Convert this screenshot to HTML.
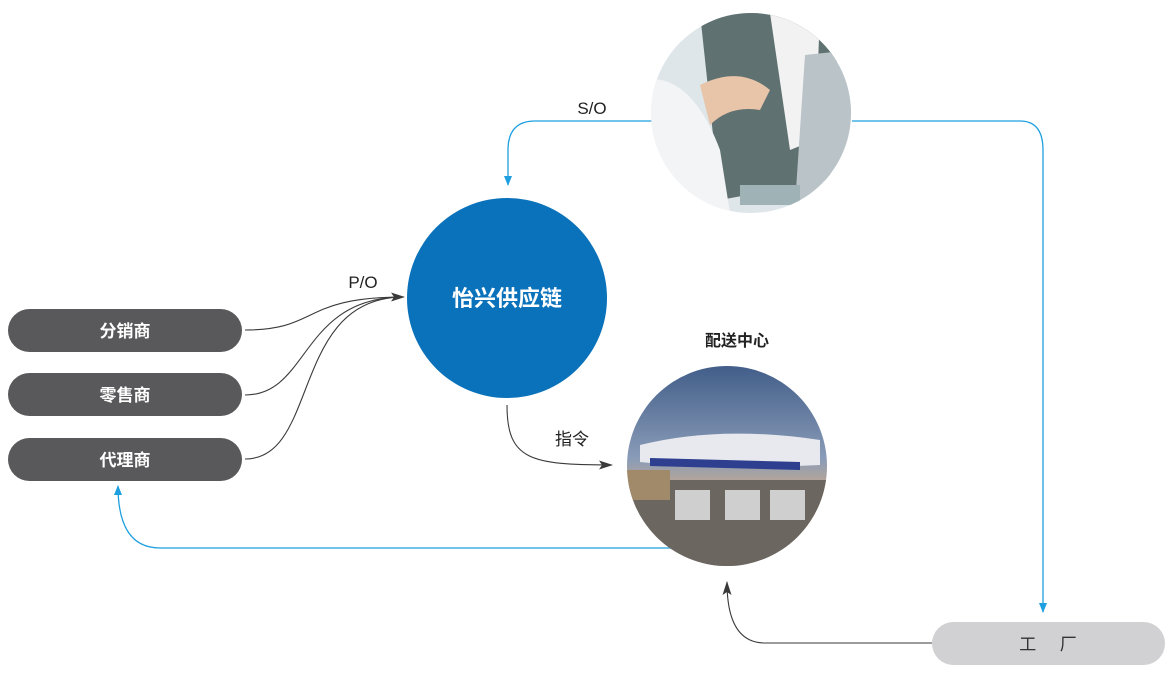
<!DOCTYPE html>
<html><head><meta charset="utf-8"><style>
html,body{margin:0;padding:0;background:#fff;width:1170px;height:679px;overflow:hidden}
svg{display:block}
text{font-family:"Liberation Sans","Noto Sans CJK SC",sans-serif}
</style></head><body>
<svg width="1170" height="679" viewBox="0 0 1170 679">
<defs>
<clipPath id="c1"><circle cx="751" cy="113" r="100"/></clipPath>
<clipPath id="c2"><circle cx="727" cy="466" r="100"/></clipPath>
<linearGradient id="sky" x1="0" y1="0" x2="0" y2="1">
<stop offset="0" stop-color="#3d5a86"/><stop offset="0.45" stop-color="#8a9cb8"/><stop offset="0.6" stop-color="#c7a98a"/><stop offset="1" stop-color="#6a6e74"/></linearGradient>
<marker id="ab" markerWidth="10" markerHeight="10" refX="9" refY="5" orient="auto" markerUnits="userSpaceOnUse"><path d="M0,1 L10,5 L0,9 Z" fill="#1ea0e0"/></marker>
<marker id="ad" markerWidth="14" markerHeight="10" refX="13" refY="5" orient="auto" markerUnits="userSpaceOnUse"><path d="M0,0.5 L14,5 L0,9.5 L3,5 Z" fill="#3a3a3a"/></marker>
</defs>

<!-- blue lines -->
<g fill="none" stroke="#1ea0e0" stroke-width="1.3">
<path d="M652,121 L535,121 Q508,121 508,150 L508,185" marker-end="url(#ab)"/>
<path d="M852,121 L1020,121 Q1043,121 1043,150 L1043,612" marker-end="url(#ab)"/>
<path d="M680,548 L160,548 Q118,548 118,486" marker-end="url(#ab)"/>
</g>
<!-- dark lines -->
<g fill="none" stroke="#3a3a3a" stroke-width="1.1">
<path d="M245,330 C320,330 300,297 404,297" marker-end="url(#ad)"/>
<path d="M245,395 C310,395 300,297 404,297"/>
<path d="M245,459 C320,459 290,297 404,297"/>
<path d="M507,405 C507,460 530,465 612,465" marker-end="url(#ad)"/>
<path d="M932,643 L765,643 Q727,643 727,582" marker-end="url(#ad)"/>
</g>

<!-- pills -->
<g fill="#59595b">
<rect x="8" y="309" width="234" height="43" rx="21.5"/>
<rect x="8" y="373" width="234" height="43" rx="21.5"/>
<rect x="8" y="438" width="234" height="43" rx="21.5"/>
</g>
<g fill="#fff" font-size="17" font-weight="bold" text-anchor="middle">
<text x="125" y="337">分销商</text>
<text x="125" y="401">零售商</text>
<text x="125" y="466">代理商</text>
</g>
<rect x="932" y="622" width="233" height="43" rx="21.5" fill="#d1d1d3"/>
<text x="1048" y="650" font-size="17" text-anchor="middle" fill="#333" xml:space="preserve">工     厂</text>

<!-- blue circle -->
<circle cx="507" cy="298" r="100" fill="#0a72ba"/>
<text x="507" y="306" font-size="22" fill="#fff" text-anchor="middle" font-weight="bold">怡兴供应链</text>

<!-- office photo -->
<g clip-path="url(#c1)">
<rect x="640" y="0" width="230" height="230" fill="#dfe6ea"/>
<path d="M700,13 L840,13 L830,180 L720,200 Z" fill="#5f7170"/>
<path d="M770,13 L820,13 L815,140 L790,150 Z" fill="#f2f2f2"/>
<path d="M805,55 L852,50 L852,213 L795,205 Z" fill="#b9c3c8"/>
<path d="M640,80 Q690,70 720,150 L730,213 L640,213 Z" fill="#f3f4f6"/>
<path d="M700,85 Q740,65 770,90 L760,110 Q730,105 710,125 Z" fill="#e8c4a8"/>
<rect x="740" y="185" width="60" height="20" fill="#9fb2b6"/>
</g>

<!-- airplane photo -->
<g clip-path="url(#c2)">
<rect x="620" y="360" width="220" height="220" fill="url(#sky)"/>
<path d="M640,445 Q720,425 820,440 L820,465 Q720,470 640,462 Z" fill="#e8e9ee"/>
<path d="M650,458 L800,462 L800,470 L650,466 Z" fill="#2d3f8e"/>
<rect x="620" y="480" width="220" height="100" fill="#6b6660"/>
<rect x="675" y="490" width="35" height="30" fill="#cfcfcf"/>
<rect x="725" y="490" width="35" height="30" fill="#cfcfcf"/>
<rect x="770" y="490" width="35" height="30" fill="#cfcfcf"/>
<rect x="620" y="470" width="50" height="30" fill="#a08a6a"/>
</g>

<!-- labels -->
<g font-size="17" fill="#222" text-anchor="middle">
<text x="592" y="114">S/O</text>
<text x="363" y="288">P/O</text>
<text x="572" y="445">指令</text>
<text x="737" y="346" font-weight="bold" font-size="16">配送中心</text>
</g>
</svg>
</body></html>
